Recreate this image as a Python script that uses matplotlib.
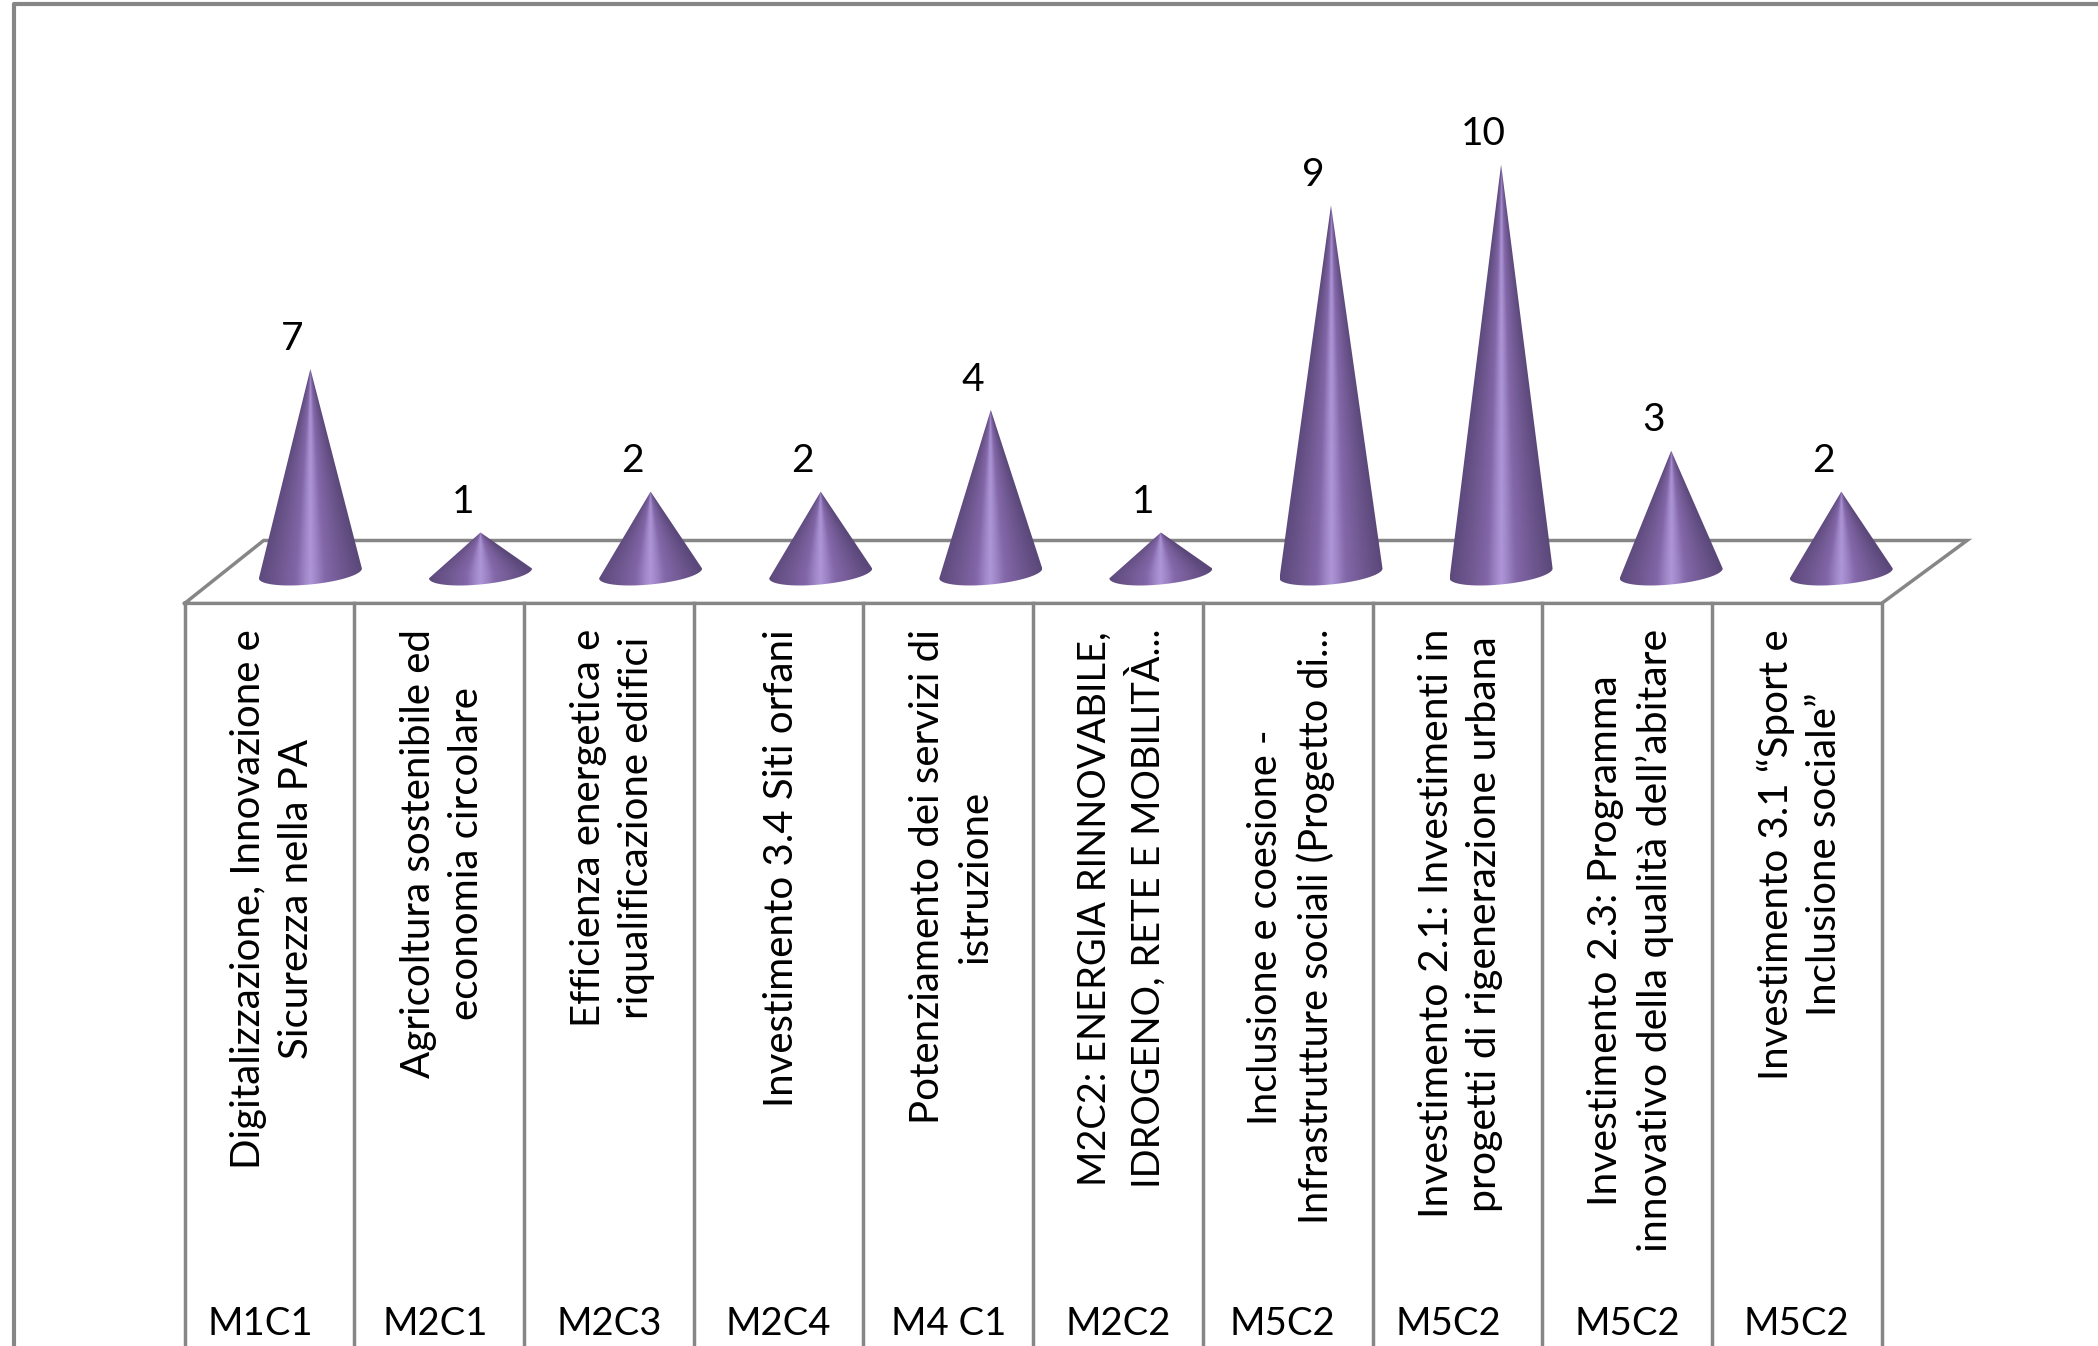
import numpy as np
import matplotlib
matplotlib.use('Agg')
import matplotlib.pyplot as plt
from matplotlib.colors import LinearSegmentedColormap
from matplotlib.patches import Polygon

plt.rcParams['font.family'] = ['Lato', 'DejaVu Sans']

# cone heights as drawn, and the labels printed over them (first one differs in the source)
heights = [5, 1, 2, 2, 4, 1, 9, 10, 3, 2]
value_labels = ['7', '1', '2', '2', '4', '1', '9', '10', '3', '2']
categories = [
    'Digitalizzazione, Innovazione e\nSicurezza nella PA',
    'Agricoltura sostenibile ed\neconomia circolare',
    'Efficienza energetica e\nriqualificazione edifici',
    'Investimento 3.4 Siti orfani',
    'Potenziamento dei servizi di\nistruzione',
    'M2C2: ENERGIA RINNOVABILE,\nIDROGENO, RETE E MOBILITÀ...',
    'Inclusione e coesione -\nInfrastrutture sociali (Progetto di...',
    'Investimento 2.1: Investimenti in\nprogetti di rigenerazione urbana',
    'Investimento 2.3: Programma\ninnovativo della qualità dell’abitare',
    'Investimento 3.1 “Sport e\nInclusione sociale”',
]
groups = ['M1C1', 'M2C1', 'M2C3', 'M2C4', 'M4 C1', 'M2C2', 'M5C2', 'M5C2', 'M5C2', 'M5C2']

W, H = 2098, 1346
LINE = '#868686'
# pixel layout of the chart: one x unit is a column, one y unit is a value step
x_unit = 170.1
y_unit = 40.9
x_zero = 310.4
y_zero = 573.4

fig = plt.figure(figsize=(W / 100, H / 100), dpi=100, facecolor='white')
ax = fig.add_axes([0, 0, 1, 1])
xlim = (-x_zero / x_unit, (W - x_zero) / x_unit)
ylim = ((y_zero - H) / y_unit, y_zero / y_unit)
ax.set_xlim(xlim)
ax.set_ylim(ylim)
ax.axis('off')


def px(x):
    return (x - x_zero) / x_unit


def py(y):
    return (y_zero - y) / y_unit


# outer chart border, runs off the top right and bottom
ax.plot([px(13.5), px(13.5), px(W + 5)], [py(H + 5), py(4), py(4)], color=LINE, lw=3.0, zorder=1)

# floor and category table
n = len(heights)
col_w = 169.7 / x_unit
left = px(184.6)
front = py(603.4)
back = py(540.5)
right = left + n * col_w
floor_x = [left, right, px(1967), px(263.6), left]
floor_y = [front, front, back, back, front]
ax.plot(floor_x, floor_y, color=LINE, lw=2.5, zorder=1, solid_joinstyle='miter')
for k in range(n + 1):
    ax.plot([left + k * col_w] * 2, [front, py(H + 5)], color=LINE, lw=2.5, zorder=1)

# cones, shading follows the cone so the bands meet at the tip
cone_cmap = LinearSegmentedColormap.from_list('cone', [
    (0.0, '#5d4a7d'), (0.2, '#705890'), (0.36, '#8266a8'), (0.45, '#a088c8'),
    (0.5, '#ae95d8'), (0.55, '#a088c8'), (0.64, '#8468aa'), (0.82, '#6e578f'), (1.0, '#5b487a')])
half_w = 51.5 / x_unit
rim_h = 0.27
rim_tilt = 0.12
t = np.linspace(0, -np.pi, 60)
for i, h in enumerate(heights):
    rim_x = i + half_w * np.cos(t)
    rim_y = rim_h * np.sin(t) + rim_tilt * np.cos(t)
    pts = np.column_stack([np.r_[i, rim_x], np.r_[h, rim_y]])
    clip = Polygon(pts, closed=True, transform=ax.transData, fc='none', ec='none')
    ax.add_patch(clip)
    gx = np.linspace(-half_w, half_w, 200)
    gy = np.linspace(-rim_h - rim_tilt, h, 300)
    xx, yy = np.meshgrid(gx, gy)
    reach = half_w * np.clip(1 - yy / h, 0.02, 1)
    shade = np.clip(0.5 + 0.5 * xx / reach, 0, 1)
    im = ax.imshow(shade, cmap=cone_cmap, vmin=0, vmax=1, origin='lower', aspect='auto', zorder=3,
                   interpolation='bilinear', extent=[i - half_w, i + half_w, gy[0], h])
    im.set_clip_path(clip)
    ax.text(i - 0.105, h + 0.3, value_labels[i], ha='center', va='bottom', fontsize=28, color='black', zorder=4)
ax.set_xlim(xlim)
ax.set_ylim(ylim)

# category labels, hang from the top of the table
group_nudge = [-0.055, -0.02, 0, 0, 0, 0, -0.03, -0.055, 0, 0]
label_size = [29, 29, 29, 29, 29, 27.4, 28.5, 29.5, 29.5, 29]
for i, (cat, grp) in enumerate(zip(categories, groups)):
    cx = left + (i + 0.5) * col_w
    ax.text(cx + 0.02, py(629), cat, rotation=90, ha='center', va='top', ma='center', fontsize=label_size[i],
            linespacing=1.37, color='black', zorder=4)
    ax.text(cx + group_nudge[i], py(1324), grp, ha='center', va='center', fontsize=27.5, color='black', zorder=4)

fig.savefig('out.png', dpi=100, facecolor='white')
